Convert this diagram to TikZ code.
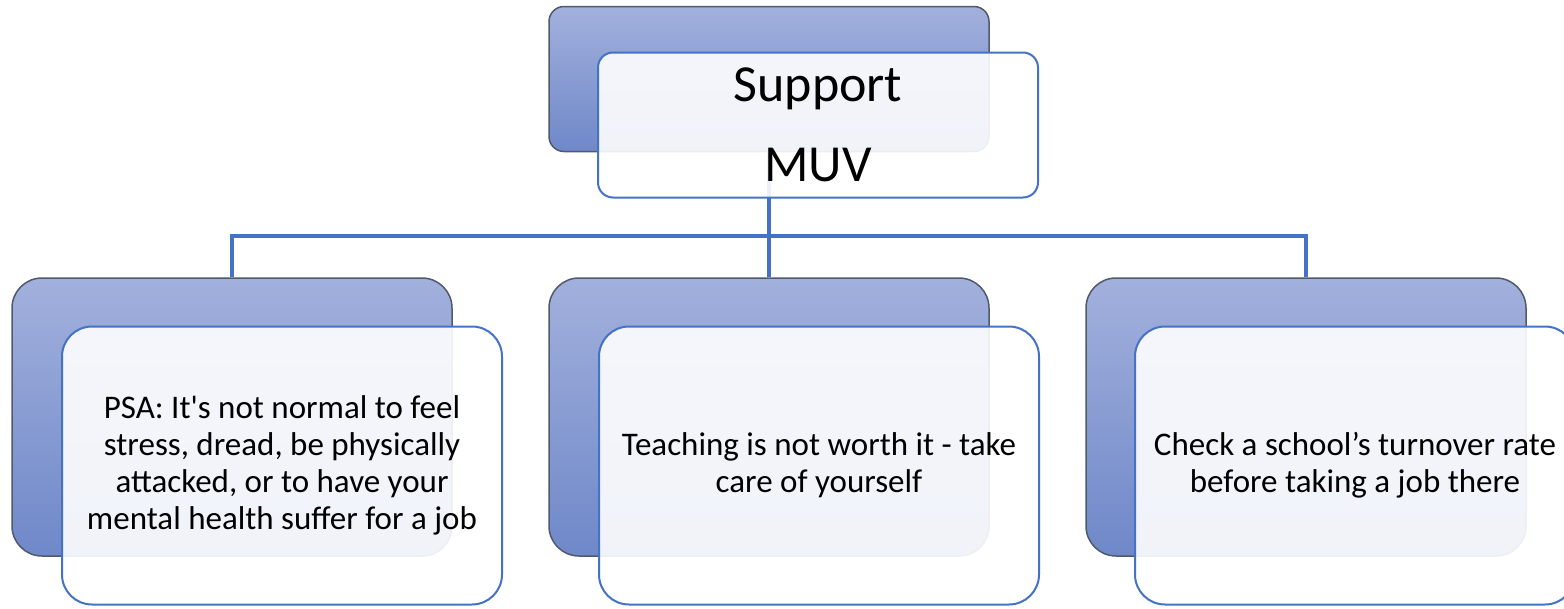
\documentclass[tikz,border=0pt]{standalone}
\usepackage{fontspec}
\setmainfont{Carlito}
\definecolor{bluebd}{HTML}{4472C4}
\definecolor{shtop}{HTML}{A2B0DC}
\definecolor{shbot}{HTML}{6F88C9}
\definecolor{backbd}{HTML}{505A6A}
\tikzset{
  backbox/.style={draw=backbd, line width=1.5pt, top color=shtop, bottom color=shbot,
    minimum width=440pt, inner sep=0pt},
  frontbox/.style={draw=bluebd, line width=2pt, fill=white, fill opacity=0.9, text opacity=1,
    minimum width=440pt, inner sep=0pt, align=center, text=black},
  link/.style={draw=bluebd, line width=3.5pt},
  topsz/.style={minimum height=145pt, rounded corners=15pt},
  botsz/.style={minimum height=278pt, rounded corners=30pt, font=\fontsize{33}{37}\selectfont}
}
\begin{document}
\begin{tikzpicture}[x=1pt,y=-1pt]
\useasboundingbox (0,0) rectangle (1564,608);
\clip (0,0) rectangle (1564,608);
\fill[white] (0,0) rectangle (1564,608);
% back boxes
\node[backbox, topsz] (tb) at (769,79) {};
\node[backbox, botsz] (b1) at (232,417) {};
\node[backbox, botsz] (b2) at (769,417) {};
\node[backbox, botsz] (b3) at (1306,417) {};
% connectors
\coordinate (bus) at (769,236);
\draw[link] (tb.south) -- (bus);
\draw[link] (b1.north) |- (bus) -| (b3.north);
\draw[link] (bus) -- (b2.north);
% front boxes
\node[frontbox, topsz, font=\fontsize{52}{80}\selectfont] (tf) at (818,125) {Support\\MUV};
\node[frontbox, botsz] (f1) at (282,465.5) {PSA: It\textquotesingle s not normal to feel\\stress, dread, be physically\\attacked, or to have your\\mental health suffer for a job};
\node[frontbox, botsz] (f2) at (819,465.5) {Teaching is not worth it - take\\care of yourself};
\node[frontbox, botsz] (f3) at (1355,465.5) {Check a school’s turnover rate\\before taking a job there};
\end{tikzpicture}
\end{document}
